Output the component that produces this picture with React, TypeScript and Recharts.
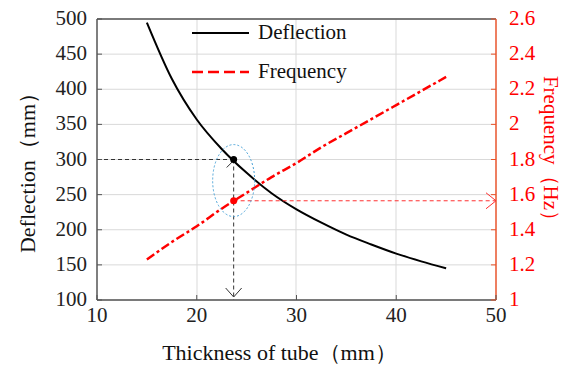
import React from 'react';
import {
  ComposedChart,
  Line,
  XAxis,
  YAxis,
  CartesianGrid,
  ReferenceLine,
  ReferenceDot,
  Legend
} from 'recharts';

const thickness = [15, 17.5, 20, 22.5, 25, 27.5, 30, 32.5, 35, 37.5, 40, 42.5, 45];
const deflection = [495, 415, 357, 315, 281, 252, 229, 210, 193, 179, 166, 155, 145];
const frequency = [1.23, 1.33, 1.42, 1.52, 1.61, 1.70, 1.78, 1.87, 1.95, 2.03, 2.11, 2.19, 2.27];

const xTicks = [10, 20, 30, 40, 50];
const leftTicks = [100, 150, 200, 250, 300, 350, 400, 450, 500];
const rightTicks = [1, 1.2, 1.4, 1.6, 1.8, 2, 2.2, 2.4, 2.6];

// marked design point
const markT = 23.7;
const markDeflection = 300;
const markFrequency = 1.565;

const data = thickness.map((t, i) => ({ t, deflection: deflection[i], frequency: frequency[i] }));

const FONT = '"Liberation Serif", "Times New Roman", serif';
const PLOT_LEFT = 97;
const PLOT_RIGHT = 496;
const PLOT_BOTTOM = 300;

const XTick = (p: any) => (
  <g>
    <line x1={p.x} x2={p.x} y1={PLOT_BOTTOM} y2={PLOT_BOTTOM - 5} stroke="#555" />
    <text x={p.x} y={p.y} dy={16} textAnchor="middle" fontFamily={FONT} fontSize={21} fill="#222">
      {p.payload.value}
    </text>
  </g>
);

const LeftTick = (p: any) => (
  <g>
    <line x1={PLOT_LEFT} x2={PLOT_LEFT + 5} y1={p.y} y2={p.y} stroke="#555" />
    <text x={p.x} y={p.y} dy={6} textAnchor="end" fontFamily={FONT} fontSize={21} fill="#222">
      {p.payload.value}
    </text>
  </g>
);

const RightTick = (p: any) => (
  <g>
    <line x1={PLOT_RIGHT} x2={PLOT_RIGHT - 5} y1={p.y} y2={p.y} stroke="#e8552c" />
    <text x={p.x} y={p.y} dy={6} textAnchor="start" fontFamily={FONT} fontSize={21} fill="#ff0000">
      {p.payload.value}
    </text>
  </g>
);

const DownArrow = (p: any) => (
  <path d={`M${p.cx - 8},${p.cy - 12} L${p.cx},${p.cy - 3} L${p.cx + 8},${p.cy - 12}`} fill="none" stroke="#333" />
);

const Caret = (p: any) => (
  <path d={`M${p.cx - 7},${p.cy + 8} L${p.cx - 1},${p.cy + 2}`} fill="none" stroke="#333" />
);

const RightArrow = (p: any) => (
  <path d={`M${p.cx - 10},${p.cy - 8} L${p.cx},${p.cy} L${p.cx - 10},${p.cy + 8}`} fill="none" stroke="#ff3030" />
);

const Ellipse = (p: any) => (
  <ellipse cx={p.cx} cy={p.cy} rx={21} ry={36} fill="none" stroke="#4aa3d8" strokeDasharray="2 2" />
);

const LegendBox = () => (
  <svg width={200} height={70}>
    <line x1={7} x2={64} y1={14} y2={14} stroke="#000" strokeWidth={2} />
    <text x={73} y={20} fontFamily={FONT} fontSize={21} fill="#111">Deflection</text>
    <line x1={7} x2={64} y1={53} y2={53} stroke="#ff0000" strokeWidth={2.5} strokeDasharray="11 5" />
    <text x={73} y={59} fontFamily={FONT} fontSize={21} fill="#111">Frequency</text>
  </svg>
);

export default function App() {
  return (
    <div style={{ position: 'absolute', left: 0, top: 0, background: '#fff' }}>
      <ComposedChart width={563} height={365} data={data} margin={{ top: 19, right: 0, bottom: 0, left: 0 }}>
        <CartesianGrid stroke="#d9d9d9" verticalPoints={[197, 296, 396]} yAxisId="left" />
        <XAxis
          type="number"
          dataKey="t"
          domain={[10, 50]}
          ticks={xTicks}
          height={65}
          axisLine={{ stroke: '#555', strokeWidth: 1.5 }}
          tickLine={false}
          tickSize={0}
          tickMargin={6}
          tick={<XTick />}
          label={{ value: 'Thickness of tube（mm）', position: 'center', dx: -17, dy: 20, fontSize: 22, fontFamily: FONT, fill: '#111' }}
        />
        <YAxis
          yAxisId="left"
          domain={[100, 500]}
          ticks={leftTicks}
          width={97}
          axisLine={{ stroke: '#555', strokeWidth: 1.5 }}
          tickLine={false}
          tickSize={0}
          tickMargin={10}
          tick={<LeftTick />}
          label={{ value: 'Deflection（mm）', angle: -90, position: 'center', dx: -21, dy: 8, fontSize: 22, fontFamily: FONT, fill: '#111' }}
        />
        <YAxis
          yAxisId="right"
          orientation="right"
          domain={[1, 2.6]}
          ticks={rightTicks}
          width={67}
          axisLine={{ stroke: '#e8552c', strokeWidth: 1.5 }}
          tickLine={false}
          tickSize={0}
          tickMargin={13}
          tick={<RightTick />}
          label={{ value: 'Frequency（Hz）', angle: 90, position: 'center', dx: 22, dy: -6, fontSize: 21, fontFamily: FONT, fill: '#ff0000' }}
        />
        <ReferenceLine yAxisId="left" y={500} stroke="#555" strokeWidth={1.5} />
        <Legend
          layout="horizontal"
          verticalAlign="middle"
          align="center"
          wrapperStyle={{ top: 19, left: 185, width: 200 }}
          content={<LegendBox />}
        />
        <Line
          yAxisId="left"
          type="monotone"
          dataKey="deflection"
          stroke="#000"
          strokeWidth={2}
          dot={false}
          isAnimationActive={false}
        />
        <Line
          yAxisId="right"
          type="monotone"
          dataKey="frequency"
          stroke="#ff0000"
          strokeWidth={2.5}
          strokeDasharray="9 3 3 3"
          dot={false}
          isAnimationActive={false}
        />
        <ReferenceLine
          yAxisId="left"
          segment={[{ x: 10, y: markDeflection }, { x: markT, y: markDeflection }]}
          stroke="#333"
          strokeDasharray="4 3"
        />
        <ReferenceLine
          yAxisId="left"
          segment={[{ x: markT, y: markDeflection }, { x: markT, y: 100 }]}
          stroke="#333"
          strokeDasharray="4 3"
        />
        <ReferenceLine
          yAxisId="right"
          segment={[{ x: markT, y: markFrequency }, { x: 50, y: markFrequency }]}
          stroke="#ff3030"
          strokeDasharray="4 3"
        />
        <ReferenceDot yAxisId="left" x={markT} y={100} shape={<DownArrow />} />
        <ReferenceDot yAxisId="left" x={markT} y={markDeflection} shape={<Caret />} />
        <ReferenceDot yAxisId="right" x={50} y={markFrequency} shape={<RightArrow />} />
        <ReferenceDot yAxisId="left" x={markT} y={270} shape={<Ellipse />} />
        <ReferenceDot yAxisId="left" x={markT} y={markDeflection} r={3.5} fill="#000" stroke="none" />
        <ReferenceDot yAxisId="right" x={markT} y={markFrequency} r={3.5} fill="#ff0000" stroke="none" />
      </ComposedChart>
    </div>
  );
}
